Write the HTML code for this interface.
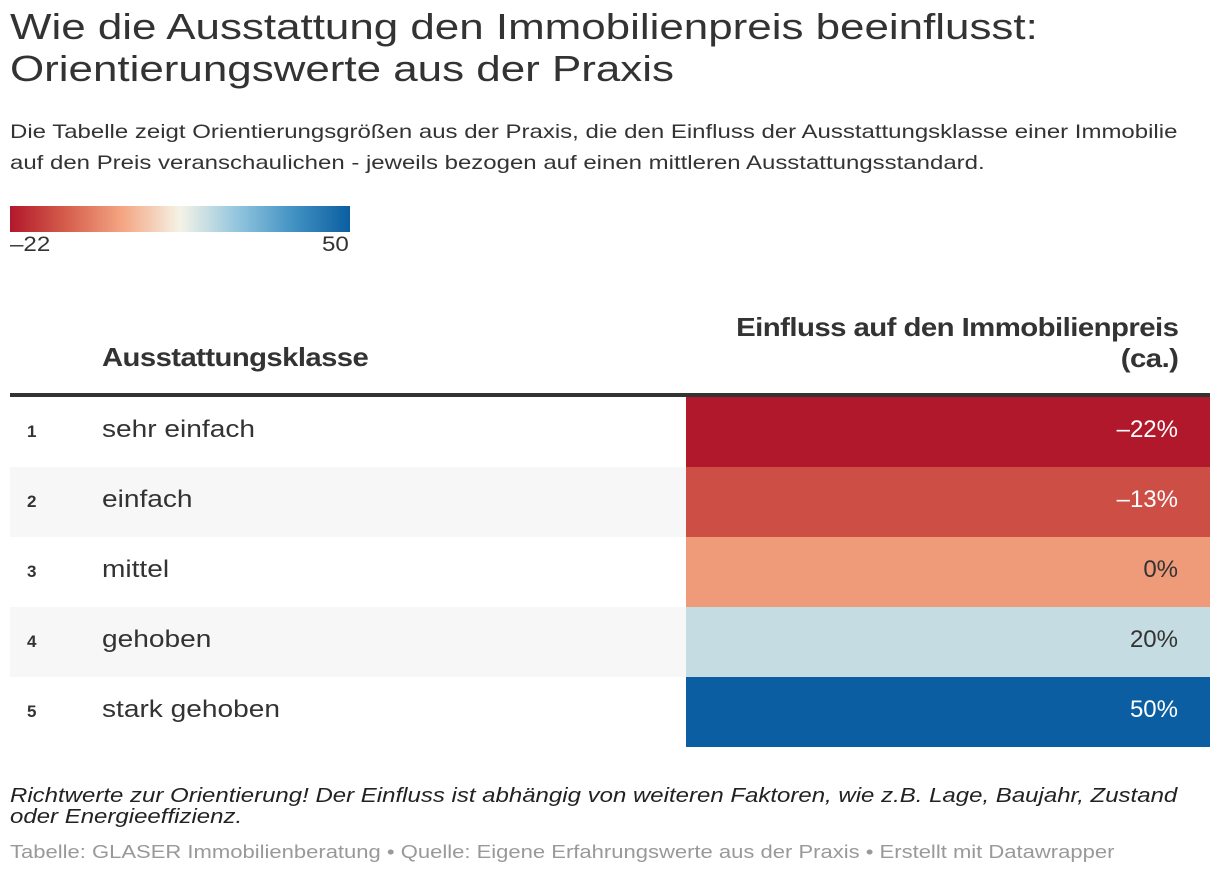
<!DOCTYPE html>
<html><head><meta charset="utf-8"><style>
body{margin:0;width:1220px;height:878px;background:#fff;font-family:"Liberation Sans",sans-serif;color:#333;position:relative;overflow:hidden}
.abs{position:absolute}
h1{position:absolute;left:10px;top:6px;margin:0;font-weight:normal;font-size:36px;line-height:42px;color:#333;transform:scaleX(1.22);transform-origin:0 0;white-space:nowrap}
.desc{left:10px;top:117px;font-size:19.5px;line-height:31px;transform:scaleX(1.23);transform-origin:0 0;white-space:nowrap}
.row{position:absolute;left:10px;width:1200px;height:70px;border-bottom:1px solid #e2e2e2}
.num{position:absolute;left:17px;top:0;line-height:70px;font-weight:bold;font-size:17px}
.lab{position:absolute;left:92px;top:0;line-height:66px;font-size:24px;transform:scaleX(1.17);transform-origin:0 0;white-space:nowrap}
.val{position:absolute;left:676px;width:524px;top:0;height:70px;text-align:right;box-sizing:border-box;padding-right:32px;line-height:66px;font-size:24px}
</style></head><body>
<h1>Wie die Ausstattung den Immobilienpreis beeinflusst:<br>Orientierungswerte aus der Praxis</h1>
<div class="abs desc">Die Tabelle zeigt Orientierungsgrößen aus der Praxis, die den Einfluss der Ausstattungsklasse einer Immobilie<br>auf den Preis veranschaulichen - jeweils bezogen auf einen mittleren Ausstattungsstandard.</div>
<div class="abs" style="left:10px;top:206px;width:340px;height:26px;background:linear-gradient(90deg,#b2182b,#d6604d 17%,#f4a582 33%,#f5f3e6 50%,#92c5de 67%,#4393c3 83%,#0b5ea1)"></div>
<div class="abs" style="left:10px;top:233px;font-size:21px;transform:scaleX(1.15);transform-origin:0 0">–22</div>
<div class="abs" style="left:322px;top:233px;font-size:21px;transform:scaleX(1.15);transform-origin:0 0">50</div>
<div class="abs" style="left:102px;top:342px;font-size:26px;font-weight:bold;letter-spacing:-0.5px;transform:scaleX(1.125);transform-origin:0 0;white-space:nowrap">Ausstattungsklasse</div>
<div class="abs" style="right:42px;top:312px;font-size:26px;font-weight:bold;text-align:right;line-height:31px;letter-spacing:-0.5px;transform:scaleX(1.13);transform-origin:100% 0;white-space:nowrap">Einfluss auf den Immobilienpreis<br>(ca.)</div>
<div class="abs" style="left:10px;top:393px;width:1200px;height:4px;background:#333"></div>
<div id="rows"></div>
<div class="abs" style="left:10px;top:786px;font-size:20px;font-style:italic;line-height:21px;width:990px;color:#222;transform:scaleX(1.2);transform-origin:0 0">Richtwerte zur Orientierung! Der Einfluss ist abhängig von weiteren Faktoren, wie z.B. Lage, Baujahr, Zustand<br>oder Energieeffizienz.</div>
<div class="abs" style="left:10px;top:841px;font-size:18.5px;color:#999;transform:scaleX(1.19);transform-origin:0 0;white-space:nowrap">Tabelle: GLASER Immobilienberatung • Quelle: Eigene Erfahrungswerte aus der Praxis • Erstellt mit Datawrapper</div>
<script>
const categories=["sehr einfach","einfach","mittel","gehoben","stark gehoben"];
const values=[-22,-13,0,20,50];
const domainMin=-22, domainMax=50;
const stops=[[0,[178,24,43]],[0.167,[214,96,77]],[0.333,[244,165,130]],[0.5,[245,243,230]],[0.667,[146,197,222]],[0.833,[67,147,195]],[1,[11,94,161]]];
function color(v){let t=(v-domainMin)/(domainMax-domainMin);t=Math.max(0,Math.min(1,t));
for(let i=1;i<stops.length;i++){if(t<=stops[i][0]){const a=stops[i-1],b=stops[i],f=(t-a[0])/(b[0]-a[0]);
const c=a[1].map((x,k)=>Math.round(x+(b[1][k]-x)*f));return c;}}return stops[stops.length-1][1];}
const host=document.getElementById('rows');
categories.forEach((c,i)=>{
const r=document.createElement('div');r.className='row';r.style.top=(397+i*70)+'px';
r.style.background=i%2?'#f7f7f7':'#fff';
if(i===categories.length-1)r.style.borderBottom='none';


const n=document.createElement('div');n.className='num';n.textContent=i+1;


const l=document.createElement('div');l.className='lab';l.textContent=c;


const v=document.createElement('div');v.className='val';
const col=color(values[i]);v.style.background='rgb('+col.join(',')+')';
const lum=0.299*col[0]+0.587*col[1]+0.114*col[2];v.style.color=lum<150?'#fff':'#333';
v.textContent=(values[i]<0?'–'+Math.abs(values[i]):values[i])+'%';


r.append(n,l,v);host.appendChild(r);});
</script>
</body></html>
